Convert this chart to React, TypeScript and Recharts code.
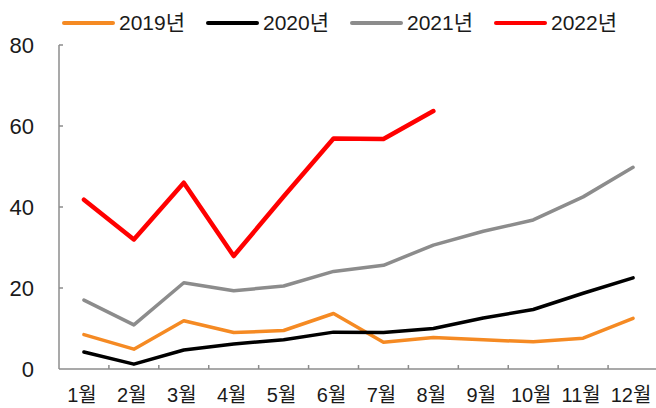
import React from "react";
import { LineChart, Line, XAxis, YAxis } from "recharts";

const months = ["1월", "2월", "3월", "4월", "5월", "6월", "7월", "8월", "9월", "10월", "11월", "12월"];
const s2019 = [8.5, 4.9, 11.9, 9.0, 9.5, 13.7, 6.6, 7.8, 7.2, 6.7, 7.6, 12.5];
const s2020 = [4.2, 1.2, 4.7, 6.2, 7.2, 9.1, 9.0, 10.0, 12.6, 14.7, 18.7, 22.5];
const s2021 = [17.0, 10.9, 21.3, 19.3, 20.5, 24.1, 25.6, 30.6, 34.0, 36.8, 42.5, 49.8];
const s2022 = [41.8, 32.0, 46.0, 27.9, 42.6, 56.9, 56.8, 63.7, null, null, null, null];
const yTicks = [0, 20, 40, 60, 80];

const seriesNames = ["2019년", "2020년", "2021년", "2022년"];
const seriesColors = ["#F58A23", "#000000", "#8C8C8C", "#FF0000"];
const seriesWidths = [3.5, 3.5, 3.5, 4.5];
const seriesValues = [s2019, s2020, s2021, s2022];

const data = months.map((m, i) => {
  const row: Record<string, any> = { month: m };
  seriesNames.forEach((n, k) => {
    row[n] = seriesValues[k][i];
  });
  return row;
});

const AXIS_COLOR = "#8C8C8C";
const TEXT_COLOR = "#1a1a1a";
const FONT = "'Liberation Sans', Arial, 'Noto Sans CJK KR', sans-serif";
const Y_MARGIN = 25;
const X_MARGIN = 19;
const BAND = 49.9;

const YTick = (props: any) => {
  const { x, y, payload } = props;
  const ax = x + Y_MARGIN;
  return (
    <g>
      {payload.value !== 0 && (
        <line x1={ax} x2={ax + 4} y1={y} y2={y} stroke={AXIS_COLOR} strokeWidth={1.5} />
      )}
      <text x={x} y={y} dy="0.36em" textAnchor="end" fontSize={22} fill={TEXT_COLOR} fontFamily={FONT}>
        {payload.value}
      </text>
    </g>
  );
};

const XTick = (props: any) => {
  const { x, y, payload } = props;
  const ay = y - X_MARGIN;
  return (
    <g>
      <line x1={x + BAND / 2} x2={x + BAND / 2} y1={ay} y2={ay - 4} stroke={AXIS_COLOR} strokeWidth={1.5} />
      <text x={x - 2} y={y} dy="0.7em" textAnchor="middle" fontSize={20} fill={TEXT_COLOR} fontFamily={FONT}>
        {payload.value}
      </text>
    </g>
  );
};

const LegendBlock = () => (
  <div
    style={{
      position: "absolute",
      left: 62,
      top: 11,
      display: "flex",
      alignItems: "center",
      fontFamily: FONT,
    }}
  >
    {seriesNames.map((n, k) => (
      <div key={n} style={{ display: "flex", alignItems: "center", width: 144 }}>
        <div style={{ width: 53, height: 4, borderRadius: 2, background: seriesColors[k], marginRight: 4 }} />
        <span style={{ fontSize: 21, color: TEXT_COLOR, lineHeight: "24px" }}>{n}</span>
      </div>
    ))}
  </div>
);

export default function App() {
  return (
    <div style={{ position: "fixed", left: 0, top: 0, width: 656, height: 408, overflow: "hidden", background: "#fff" }}>
      <LineChart width={662} height={408} data={data} margin={{ top: 45, right: 4, bottom: 9, left: 0 }}>
        <XAxis
          dataKey="month"
          height={30}
          padding={{ left: BAND / 2, right: BAND / 2 }}
          axisLine={{ stroke: AXIS_COLOR, strokeWidth: 1.5 }}
          tickLine={false}
          tickSize={0}
          tickMargin={X_MARGIN}
          interval={0}
          tick={<XTick />}
        />
        <YAxis
          width={59}
          domain={[0, 80]}
          ticks={yTicks}
          axisLine={{ stroke: AXIS_COLOR, strokeWidth: 1.5 }}
          tickLine={false}
          tickSize={0}
          tickMargin={Y_MARGIN}
          tick={<YTick />}
        />
        {seriesNames.map((n, k) => (
          <Line
            key={n}
            dataKey={n}
            stroke={seriesColors[k]}
            strokeWidth={seriesWidths[k]}
            strokeLinecap="round"
            strokeLinejoin="round"
            dot={false}
            activeDot={false}
            isAnimationActive={false}
          />
        ))}
      </LineChart>
      <LegendBlock />
    </div>
  );
}
